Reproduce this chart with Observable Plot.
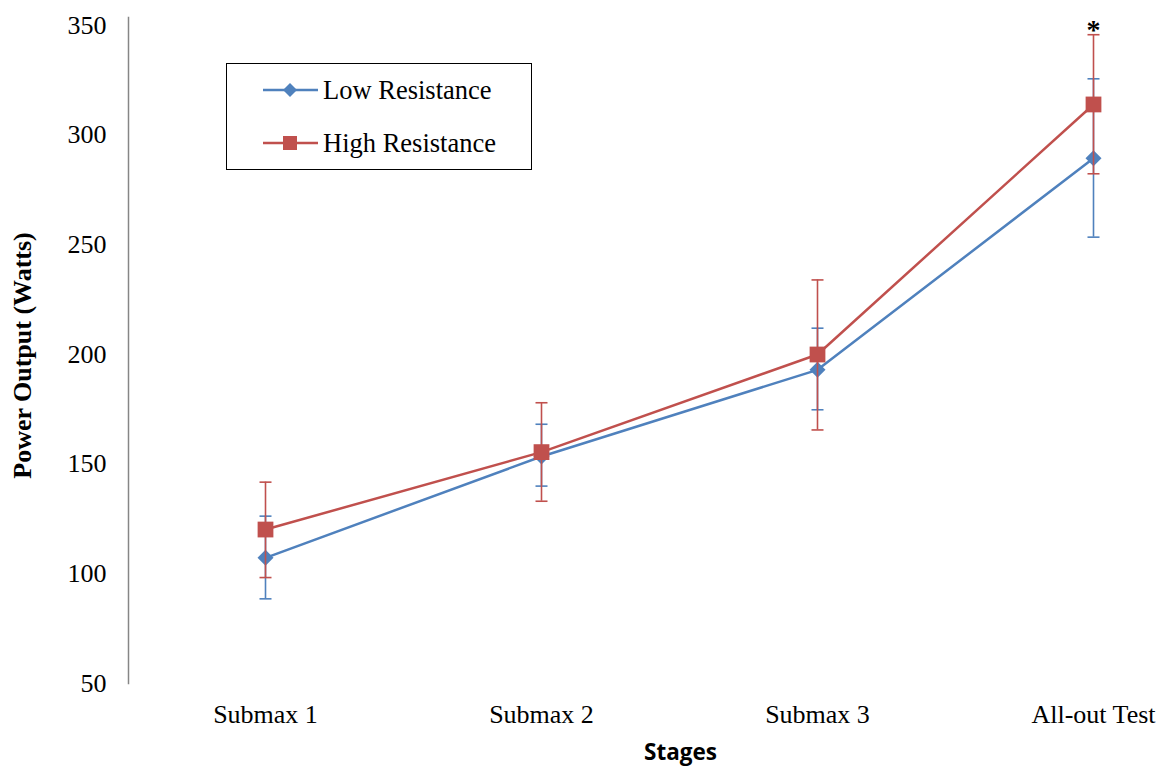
<!DOCTYPE html>
<html><head><meta charset="utf-8">
<script src="https://cdn.jsdelivr.net/npm/d3@7"></script>
<script src="https://cdn.jsdelivr.net/npm/@observablehq/plot@0.6"></script>
<style>
body{margin:0;background:#fff;}
#wrap{position:relative;width:1165px;height:767px;}
#legend{position:absolute;left:226px;top:63px;width:306px;height:107px;border:1.5px solid #000;box-sizing:border-box;background:#fff;font-family:"Liberation Serif","Times New Roman",serif;font-size:26.5px;color:#000;}
.li{position:absolute;left:36px;display:flex;align-items:center;line-height:30px;}
.li svg{margin-right:5px;}
</style></head>
<body><div id="wrap"><div id="chart"></div>
<div id="legend">
 <div class="li" style="top:11px"><svg width="55" height="20"><line x1="0" y1="10" x2="55" y2="10" stroke="#4F81BD" stroke-width="2.5"/><path d="M27,3 L34,10 L27,17 L20,10 Z" fill="#4F81BD"/></svg>Low Resistance</div>
 <div class="li" style="top:64px"><svg width="55" height="20"><line x1="0" y1="10" x2="55" y2="10" stroke="#C0504D" stroke-width="2.5"/><rect x="20" y="3" width="14" height="14" fill="#C0504D"/></svg>High Resistance</div>
</div></div>
<script>
const stages = ["Submax 1", "Submax 2", "Submax 3", "All-out Test"];
const lowMean = [107.3, 153.5, 193.0, 289.5];
const lowUpper = [126.3, 168.2, 212.0, 325.7];
const lowLower = [88.6, 140.0, 174.8, 253.5];
const highMean = [120.2, 155.5, 200.0, 314.0];
const highUpper = [141.8, 178.0, 234.0, 345.8];
const highLower = [98.3, 133.1, 165.6, 282.4];
const yTicks = [50, 100, 150, 200, 250, 300, 350];
const sigStages = ["All-out Test"];

const low = stages.map((s, i) => ({stage: s, v: lowMean[i], lo: lowLower[i], hi: lowUpper[i]}));
const high = stages.map((s, i) => ({stage: s, v: highMean[i], lo: highLower[i], hi: highUpper[i]}));
const blue = "#4F81BD", red = "#C0504D";
const cap = {draw(ctx, size){ ctx.moveTo(-6, 0); ctx.lineTo(6, 0); }};

function series(data, color, symbol, r) {
  return [
    Plot.ruleX(data, {x: "stage", y1: "lo", y2: "hi", stroke: color, strokeWidth: 1.6}),
    Plot.dot(data, {x: "stage", y: "hi", symbol: cap, stroke: color, strokeWidth: 1.6, r: 1}),
    Plot.dot(data, {x: "stage", y: "lo", symbol: cap, stroke: color, strokeWidth: 1.6, r: 1}),
    Plot.line(data, {x: "stage", y: "v", stroke: color, strokeWidth: 2.5}),
    Plot.dot(data, {x: "stage", y: "v", symbol, fill: color, r})
  ];
}

const chart = Plot.plot({
  width: 1165, height: 767,
  marginLeft: 128, marginRight: 0, marginTop: 17, marginBottom: 84,
  style: {background: "#fff", overflow: "visible"},
  x: {type: "point", domain: stages, range: [265, 1093], padding: 0},
  y: {domain: [50, 350], insetTop: 8},
  marks: [
    Plot.frame({anchor: "left", stroke: "#868686", strokeWidth: 1.5}),
    Plot.axisY({ticks: yTicks, tickSize: 0, tickPadding: 22, fontSize: 26,
      fontFamily: "Liberation Serif, serif", label: null}),
    Plot.text(["Power Output (Watts)"], {frameAnchor: "left", textAnchor: "middle", dx: -106, dy: 5, rotate: -90,
      fontSize: 26, fontWeight: "bold", fontFamily: "Liberation Serif, serif", fill: "#000"}),
    Plot.axisX({tickSize: 0, tickPadding: 21, fontSize: 26, fontFamily: "Liberation Serif, serif", label: null}),
    Plot.text(["Stages"], {frameAnchor: "bottom", dx: 128 + 552 - (128 + 1165) / 2, dy: 76,
      fontSize: 22.5, fontWeight: "bold", fontFamily: "Open Sans, sans-serif", fill: "#000"}),
    ...series(low, blue, "diamond2", 7.2),
    ...series(high, red, "square", 8.9),
    Plot.text(sigStages, {x: d => d, y: () => highUpper[3], text: () => "*", dy: -5,
      fontSize: 28, fontWeight: "bold", fontFamily: "Liberation Serif, serif", fill: "#000"})
  ]
});
document.getElementById("chart").append(chart);
</script></body></html>
